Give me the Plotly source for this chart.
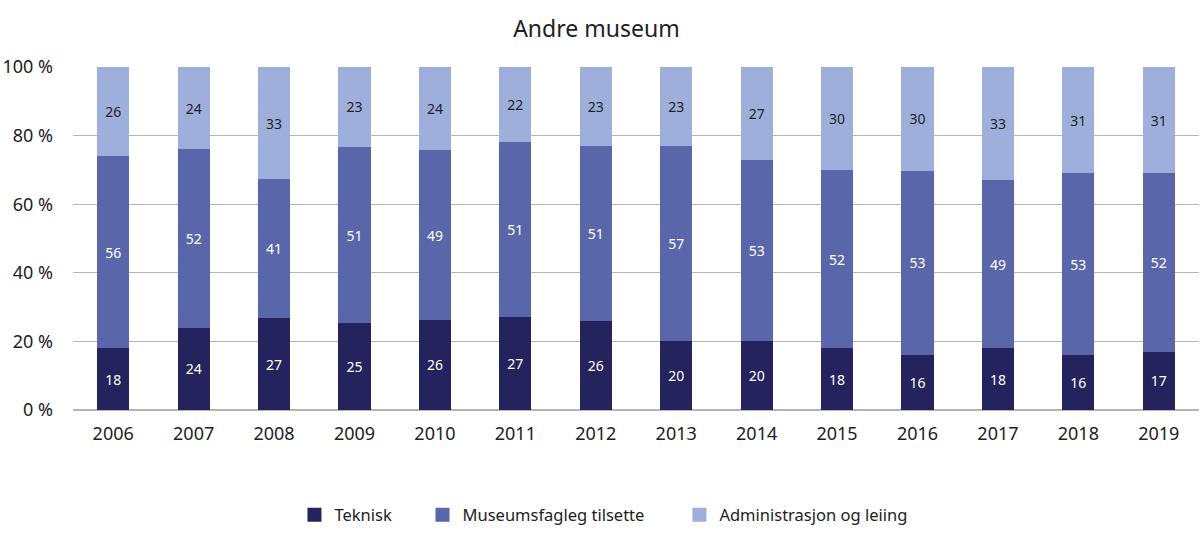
import plotly.graph_objects as go

years = ["2006", "2007", "2008", "2009", "2010", "2011", "2012", "2013", "2014", "2015", "2016", "2017", "2018", "2019"]
teknisk = [18, 24, 27, 25, 26, 27, 26, 20, 20, 18, 16, 18, 16, 17]
museumsfagleg = [56, 52, 41, 51, 49, 51, 51, 57, 53, 52, 53, 49, 53, 52]
administrasjon = [26, 24, 33, 23, 24, 22, 23, 23, 27, 30, 30, 33, 31, 31]

series = [
    ("Teknisk", teknisk, "#25235d", "white"),
    ("Museumsfagleg tilsette", museumsfagleg, "#5966aa", "white"),
    ("Administrasjon og leiing", administrasjon, "#9eafdb", "#222222"),
]
legend_pad = ["\u00a0" * 6, "\u00a0" * 7, ""]

fig = go.Figure()
for name, vals, color, tcolor in series:
    fig.add_trace(go.Bar(
        x=years, y=vals, name=name,
        marker=dict(color=color, line=dict(width=0)),
        text=[str(v) for v in vals],
        textposition="inside", insidetextanchor="middle",
        textangle=0,
        textfont=dict(color=tcolor, size=14, family="Noto Sans"),
        hoverinfo="x+y+name",
        showlegend=False,
    ))
# legend entries with square swatches
for (name, vals, color, tcolor), pad in zip(series, legend_pad):
    fig.add_trace(go.Scatter(
        x=[None], y=[None], mode="markers", name=name + pad,
        marker=dict(symbol="square", size=14, color=color),
        showlegend=True,
    ))

fig.update_layout(
    barmode="stack", barnorm="percent", bargap=0.6,
    width=1200, height=542,
    margin=dict(l=73, r=1, t=67, b=132, autoexpand=False),
    paper_bgcolor="white", plot_bgcolor="white",
    font=dict(family="Noto Sans", color="#222222"),
    title=dict(text="Andre museum", x=0.497, xanchor="center", y=0.9465, yanchor="middle",
               font=dict(size=23, color="#222222")),
    legend=dict(orientation="h", x=0.4711, xanchor="center", y=-0.306, yanchor="middle",
                font=dict(size=16.5), traceorder="normal", itemwidth=30),
    uniformtext=dict(minsize=10, mode="show"),
)
fig.update_yaxes(range=[0, 100], dtick=20, ticksuffix=" %", gridcolor="#b5b5b5", gridwidth=1,
                 zeroline=True, zerolinecolor="#b5b5b5", tickfont=dict(size=18), showline=False,
                 ticklabelstandoff=19, automargin=False)
fig.update_xaxes(tickfont=dict(size=18), showline=False, ticks="", ticklabelstandoff=11,
                 automargin=False)

# remove the default 8px page margin so the figure fills the window exactly
fig.write_html("out.html", config={"displayModeBar": False},
               post_script="document.body.style.margin='0';")
